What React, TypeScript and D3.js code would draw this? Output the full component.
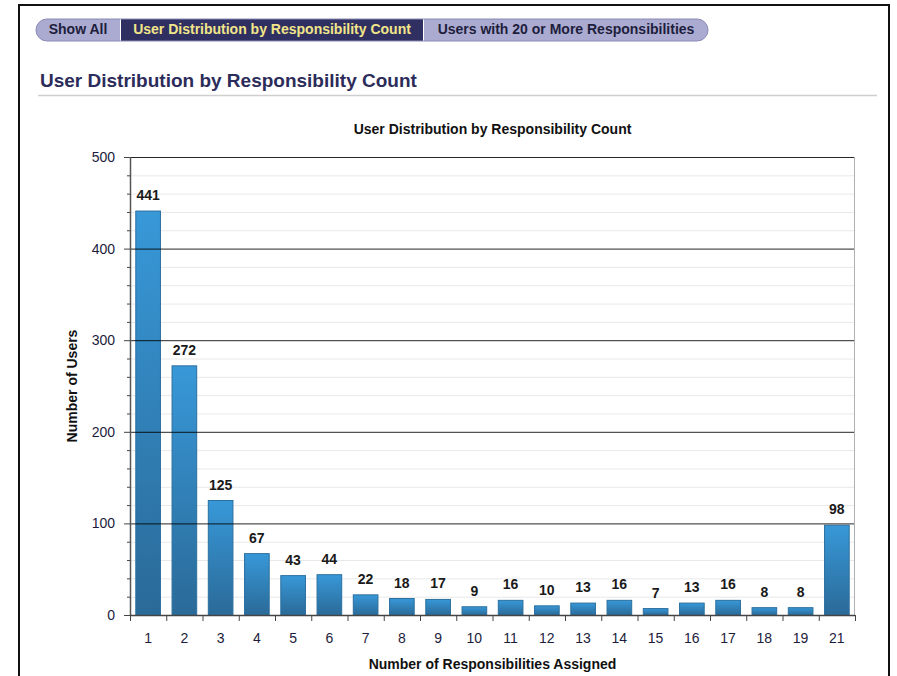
import React from "react";
import * as d3 from "d3";

// Responsibility counts (x categories) and the number of users holding each count
const categories: string[] = ["1", "2", "3", "4", "5", "6", "7", "8", "9", "10", "11", "12", "13", "14", "15", "16", "17", "18", "19", "21"];
const userCounts: number[] = [441, 272, 125, 67, 43, 44, 22, 18, 17, 9, 16, 10, 13, 16, 7, 13, 16, 8, 8, 98];
const yMajorTicks: number[] = [0, 100, 200, 300, 400, 500];
const yMinorTicks: number[] = d3.range(0, 501, 20);

const tabLabels: string[] = ["Show All", "User Distribution by Responsibility Count", "Users with 20 or More Responsibilities"];
const pageTitle = "User Distribution by Responsibility Count";
const chartTitle = "User Distribution by Responsibility Count";
const xAxisTitle = "Number of Responsibilities Assigned";
const yAxisTitle = "Number of Users";

const W = 897;
const H = 676;
const plot = { left: 130, right: 855, top: 157, bottom: 615 };
const FONT = "'Liberation Sans', Arial, Helvetica, sans-serif";
const FS = 14;

export default function App() {
  const x = d3
    .scaleBand<string>()
    .domain(categories)
    .range([plot.left, plot.right])
    .paddingInner(0.32)
    .paddingOuter(0.16);
  const y = d3.scaleLinear().domain([0, 500]).range([plot.bottom, plot.top]);

  const step = x.step();
  const boundaries = d3.range(categories.length + 1).map((i) => plot.left + i * step);

  // tab geometry
  const tabY = 19;
  const tabH = 22;
  const tabs = [
    { x0: 36, x1: 120, active: false },
    { x0: 121, x1: 423, active: true },
    { x0: 424, x1: 708, active: false },
  ];
  const r = tabH / 2;
  const pillPath = `M${36 + r},${tabY} H${708 - r} A${r},${r} 0 0 1 ${708 - r},${tabY + tabH} H${36 + r} A${r},${r} 0 0 1 ${36 + r},${tabY} Z`;

  return (
    <svg
      width={W}
      height={H}
      style={{ position: "absolute", left: 0, top: 0, background: "#fff" }}
      fontFamily={FONT}
    >
      <defs>
        <linearGradient id="barFill" x1="0" y1="0" x2="0" y2="1">
          <stop offset="0%" stopColor="#3898d8" />
          <stop offset="100%" stopColor="#2a6a98" />
        </linearGradient>
        <clipPath id="pillClip">
          <path d={pillPath} />
        </clipPath>
      </defs>

      {/* page frame */}
      <rect x={19} y={5} width={870} height={H + 20} fill="none" stroke="#111" strokeWidth={2} />

      {/* tab strip */}
      <g clipPath="url(#pillClip)">
        {tabs.map((t, i) => (
          <rect key={i} x={t.x0} y={tabY} width={t.x1 - t.x0} height={tabH} fill={t.active ? "#2f2f62" : "#ababd2"} />
        ))}
      </g>
      <path d={pillPath} fill="none" stroke="#8a8ab4" strokeWidth={1} />
      {tabs.map((t, i) => (
        <text
          key={i}
          x={(t.x0 + t.x1) / 2}
          y={tabY + 15}
          textAnchor="middle"
          fontSize={FS}
          fontWeight="bold"
          fill={t.active ? "#f2e68a" : "#1e1e3c"}
        >
          {tabLabels[i]}
        </text>
      ))}

      {/* page heading */}
      <text x={40} y={87} fontSize={19} fontWeight="bold" fill="#2c2c5a">
        {pageTitle}
      </text>
      <line x1={38} x2={877} y1={95.5} y2={95.5} stroke="#cfcfcf" strokeWidth={1.5} />

      {/* chart title */}
      <text x={(plot.left + plot.right) / 2} y={134} textAnchor="middle" fontSize={FS} fontWeight="bold" fill="#111">
        {chartTitle}
      </text>

      {/* minor gridlines */}
      {yMinorTicks
        .filter((v) => v % 100 !== 0)
        .map((v) => (
          <line key={v} x1={plot.left} x2={plot.right} y1={y(v) + 0.5} y2={y(v) + 0.5} stroke="#e8e8e8" strokeWidth={1} />
        ))}

      {/* bars */}
      {categories.map((c, i) => (
        <rect
          key={c}
          x={x(c)!}
          y={y(userCounts[i])}
          width={x.bandwidth()}
          height={y(0) - y(userCounts[i])}
          fill="url(#barFill)"
          stroke="#2b6f9f"
          strokeWidth={1}
        />
      ))}

      {/* major gridlines */}
      {yMajorTicks
        .filter((v) => v > 0)
        .map((v) => (
          <line key={v} x1={plot.left} x2={plot.right} y1={y(v) + 0.5} y2={y(v) + 0.5} stroke="#000" strokeOpacity={0.85} strokeWidth={1} />
        ))}

      {/* plot borders */}
      <line x1={plot.right - 0.5} x2={plot.right - 0.5} y1={plot.top} y2={plot.bottom} stroke="#b0b0b0" strokeWidth={1} />
      <line x1={plot.left + 0.5} x2={plot.left + 0.5} y1={plot.top} y2={plot.bottom} stroke="#555" strokeWidth={1.5} />
      <line x1={plot.left} x2={plot.right} y1={plot.bottom + 0.5} y2={plot.bottom + 0.5} stroke="#444" strokeWidth={1.5} />

      {/* y ticks */}
      {yMinorTicks.map((v) => (
        <line
          key={v}
          x1={v % 100 === 0 ? plot.left - 6 : plot.left - 3}
          x2={plot.left}
          y1={y(v) + 0.5}
          y2={y(v) + 0.5}
          stroke="#444"
          strokeWidth={1}
        />
      ))}
      {yMajorTicks.map((v) => (
        <text key={v} x={plot.left - 15} y={y(v) + 5} textAnchor="end" fontSize={FS} fill="#1c1c3c">
          {v}
        </text>
      ))}

      {/* x ticks */}
      {boundaries.map((bx, i) => (
        <line key={i} x1={bx + 0.5} x2={bx + 0.5} y1={plot.bottom} y2={plot.bottom + 6} stroke="#444" strokeWidth={1} />
      ))}
      {categories.map((c) => (
        <text key={c} x={x(c)! + x.bandwidth() / 2} y={643} textAnchor="middle" fontSize={FS} fill="#1c1c3c">
          {c}
        </text>
      ))}

      {/* value labels */}
      {categories.map((c, i) => (
        <text
          key={c}
          x={x(c)! + x.bandwidth() / 2}
          y={y(userCounts[i]) - 11}
          textAnchor="middle"
          fontSize={FS}
          fontWeight="bold"
          fill="#1a1a1a"
        >
          {userCounts[i]}
        </text>
      ))}

      {/* axis titles */}
      <text x={(plot.left + plot.right) / 2} y={669} textAnchor="middle" fontSize={FS} fontWeight="bold" fill="#111">
        {xAxisTitle}
      </text>
      <text
        transform={`translate(77,${(plot.top + plot.bottom) / 2}) rotate(-90)`}
        textAnchor="middle"
        fontSize={FS}
        fontWeight="bold"
        fill="#111"
      >
        {yAxisTitle}
      </text>
    </svg>
  );
}
